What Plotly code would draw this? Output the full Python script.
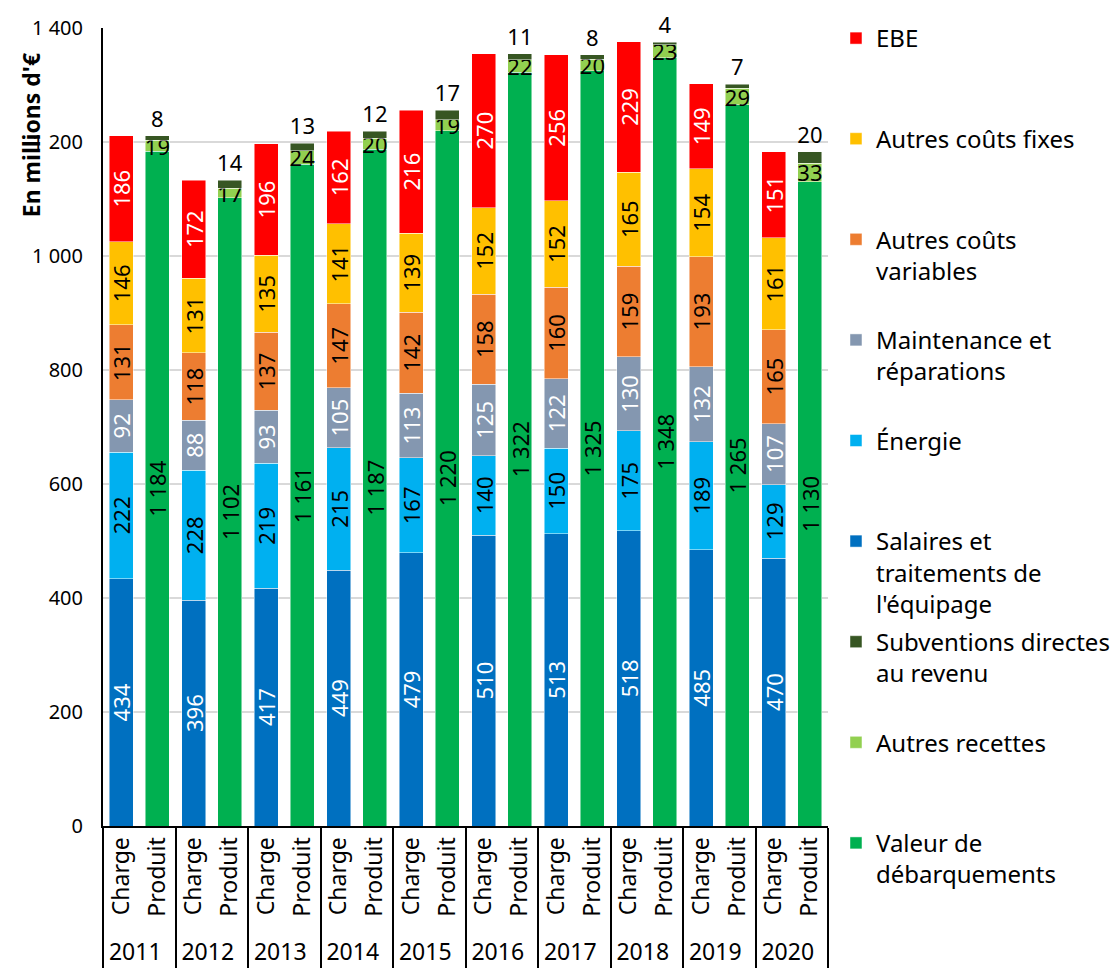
import plotly.graph_objects as go

years = ["2011", "2012", "2013", "2014", "2015", "2016", "2017", "2018", "2019", "2020"]

# Charge components (millions €)
salaires = [434, 396, 417, 449, 479, 510, 513, 518, 485, 470]
energie = [222, 228, 219, 215, 167, 140, 150, 175, 189, 129]
maintenance = [92, 88, 93, 105, 113, 125, 122, 130, 132, 107]
autres_variables = [131, 118, 137, 147, 142, 158, 160, 159, 193, 165]
autres_fixes = [146, 131, 135, 141, 139, 152, 152, 165, 154, 161]
ebe = [186, 172, 196, 162, 216, 270, 256, 229, 149, 151]

# Produit components (millions €)
valeur_debarquements = [1184, 1102, 1161, 1187, 1220, 1322, 1325, 1348, 1265, 1130]
autres_recettes = [19, 17, 24, 20, 19, 22, 20, 23, 29, 33]
subventions = [8, 14, 13, 12, 17, 11, 8, 4, 7, 20]

FONT = "Noto Sans"
NB = "\u00a0"
LBL = 22

x_charge = [years, ["Charge"] * len(years)]
x_produit = [years, ["Produit"] * len(years)]


def fmt(v):
    return f"{v:,}".replace(",", " ")


def pad(label, nlines=3):
    n = label.count("<br>") + 1
    return label + ("<br>" + NB) * (nlines - n)


charge_series = [
    ("Salaires et<br>traitements de<br>l'équipage", salaires, "#0070C0", "white", 6),
    ("Énergie", energie, "#00B0F0", "black", 5),
    ("Maintenance et<br>réparations", maintenance, "#8497B0", "white", 4),
    ("Autres coûts<br>variables", autres_variables, "#ED7D31", "black", 3),
    ("Autres coûts fixes", autres_fixes, "#FFC000", "black", 2),
    ("EBE", ebe, "#FF0000", "white", 1),
]

EDGE = dict(color="rgba(255,255,255,0.6)", width=0.8)

fig = go.Figure()

for name, vals, color, tcol, rank in charge_series:
    fig.add_trace(go.Bar(
        x=x_charge, y=vals, name=pad(name), legendgroup=name, legendrank=rank,
        marker=dict(color=color, line=EDGE),
        text=[fmt(v) for v in vals], textposition="inside", textangle=-90,
        insidetextanchor="middle", constraintext="none",
        textfont=dict(family=FONT, size=LBL, color=tcol),
    ))

fig.add_trace(go.Bar(
    x=x_produit, y=valeur_debarquements, name=pad("Valeur de<br>débarquements"),
    legendgroup="valeur", legendrank=9,
    marker=dict(color="#00B050", line=EDGE),
    text=[fmt(v) for v in valeur_debarquements], textposition="inside", textangle=-90,
    insidetextanchor="middle", constraintext="none",
    textfont=dict(family=FONT, size=LBL, color="black"),
))
fig.add_trace(go.Bar(
    x=x_produit, y=autres_recettes, name=pad("Autres recettes"),
    legendgroup="recettes", legendrank=8,
    marker=dict(color="#92D050", line=EDGE),
    text=[fmt(v) for v in autres_recettes], textposition="inside", textangle=0,
    insidetextanchor="middle", constraintext="none",
    textfont=dict(family=FONT, size=LBL, color="black"),
))
fig.add_trace(go.Bar(
    x=x_produit, y=subventions, name=pad("Subventions directes<br>au revenu"),
    legendgroup="subv", legendrank=7,
    marker=dict(color="#375623", line=EDGE),
    text=[fmt(v) for v in subventions], textposition="outside", textangle=0,
    constraintext="none", cliponaxis=False,
    textfont=dict(family=FONT, size=LBL, color="black"),
))

fig.update_layout(
    width=1120, height=972,
    barmode="stack", bargap=0.34,
    separators=", ",
    paper_bgcolor="white", plot_bgcolor="white",
    font=dict(family=FONT, size=20, color="black"),
    margin=dict(l=95, r=300, t=20, b=154, autoexpand=False),
    showlegend=True,
    legend=dict(
        x=1.011, y=1 - 8 / 972, xanchor="left", yanchor="top", yref="container",
        traceorder="grouped", tracegroupgap=4, valign="top",
        font=dict(family=FONT, size=24, color="black"),
        bgcolor="rgba(0,0,0,0)", maxheight=960,
    ),
    annotations=[dict(
        text="<b>En millions d'€</b>", textangle=-90,
        xref="paper", yref="paper", x=-0.1, y=0.865, xanchor="center", yanchor="middle",
        showarrow=False, font=dict(family=FONT, size=23, color="black"),
    )],
)

fig.update_yaxes(
    range=[0, 1400], dtick=200, tickformat=",d", separatethousands=True,
    showgrid=True, gridcolor="#D9D9D9", gridwidth=1.5,
    showline=True, linecolor="black", linewidth=2,
    ticks="", ticklabelstandoff=14, zeroline=False, automargin=False,
    tickfont=dict(family=FONT, size=20, color="black"),
)
fig.update_xaxes(
    type="multicategory", tickangle=-90,
    showline=True, linecolor="black", linewidth=2,
    showdividers=True, dividercolor="black", dividerwidth=1.5,
    ticks="", automargin=False, tickfont=dict(family=FONT, size=23, color="black"),
)

fig.write_html("out.html")
